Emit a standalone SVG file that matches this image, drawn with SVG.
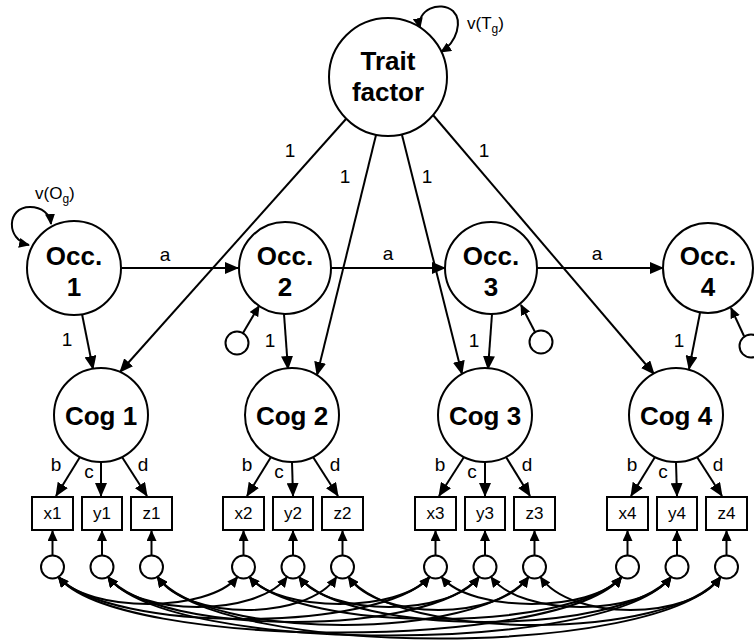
<svg xmlns="http://www.w3.org/2000/svg" width="754" height="643" viewBox="0 0 754 643">
<defs>
<marker id="ah" viewBox="0 0 14 12" markerWidth="14" markerHeight="12" refX="13" refY="6" orient="auto-start-reverse" markerUnits="userSpaceOnUse"><path d="M0,0 L14,6 L0,12 z" fill="#000"/></marker>
<marker id="ahs" viewBox="0 0 11 10" markerWidth="11" markerHeight="10" refX="10" refY="5" orient="auto-start-reverse" markerUnits="userSpaceOnUse"><path d="M0,0 L11,5 L0,10 z" fill="#000"/></marker>
<style>
.n{fill:#fff;stroke:#000;stroke-width:2}
.b{font-family:"Liberation Sans",Arial,sans-serif;font-weight:bold;font-size:26px;text-anchor:middle;fill:#000}
.t{font-family:"Liberation Sans",Arial,sans-serif;font-size:17px;text-anchor:middle;fill:#000}
.v{font-family:"Liberation Sans",Arial,sans-serif;font-size:17px;text-anchor:start;fill:#000}
.l{font-family:"Liberation Sans",Arial,sans-serif;font-size:19px;text-anchor:middle;fill:#000}
.e{fill:none;stroke:#000;stroke-width:2;marker-end:url(#ah)}
.es{fill:none;stroke:#000;stroke-width:2;marker-end:url(#ahs)}
.c{fill:none;stroke:#000;stroke-width:2;marker-start:url(#ahs);marker-end:url(#ahs)}
</style>
</defs>
<rect width="754" height="643" fill="#fff"/>
<g id="connectors">
<path class="c" d="M420,28 C416,10 440,0 453,11 C463,21 457,42 441,52"/>
<path class="c" d="M29,245 C6,240 6,207 30,207 C42,207 50,214 51,224"/>
<path class="e" d="M122,268 L238,268"/>
<path class="e" d="M331,268 L445,268"/>
<path class="e" d="M537,268 L663,268"/>
<path class="e" d="M346,119 L120,372"/>
<path class="e" d="M376,135 L317,375"/>
<path class="e" d="M402,135 L462,374"/>
<path class="e" d="M433,115 L654,374"/>
<path class="e" d="M82,314 L93,369"/>
<path class="e" d="M284,314 L288,369"/>
<path class="e" d="M492,314 L488,369"/>
<path class="e" d="M700,313 L689,369"/>
<path class="es" d="M243,333 L259,306"/>
<path class="es" d="M535,332 L521,305"/>
<path class="es" d="M744,336 L731,308"/>
<path class="e" d="M80,457 L56,496"/><path class="e" d="M101,462 L101,496"/><path class="e" d="M122,457 L147,496"/>
<path class="e" d="M271,457 L247,496"/><path class="e" d="M292,462 L293,496"/><path class="e" d="M313,457 L338,496"/>
<path class="e" d="M464,457 L439,496"/><path class="e" d="M485,462 L485,496"/><path class="e" d="M506,457 L530,496"/>
<path class="e" d="M655,457 L631,496"/><path class="e" d="M676,462 L677,496"/><path class="e" d="M697,457 L722,496"/>
<path class="es" d="M52.5,555 L52.5,531"/><path class="es" d="M102,555 L102,531"/><path class="es" d="M151.5,555 L151.5,531"/>
<path class="es" d="M243.5,555 L243.5,531"/><path class="es" d="M293,555 L293,531"/><path class="es" d="M342.5,555 L342.5,531"/>
<path class="es" d="M435.5,555 L435.5,531"/><path class="es" d="M485,555 L485,531"/><path class="es" d="M534.5,555 L534.5,531"/>
<path class="es" d="M627.5,555 L627.5,531"/><path class="es" d="M677,555 L677,531"/><path class="es" d="M726.5,555 L726.5,531"/>
<path class="c" d="M58.5,577 C88.5,613 207.5,613 237.5,577"/>
<path class="c" d="M58.5,577 C108.5,633 379.5,633 429.5,577"/>
<path class="c" d="M58.5,577 C118.5,651 561.5,651 621.5,577"/>
<path class="c" d="M249.5,577 C279.5,613 399.5,613 429.5,577"/>
<path class="c" d="M249.5,577 C299.5,633 571.5,633 621.5,577"/>
<path class="c" d="M441.5,577 C471.5,613 591.5,613 621.5,577"/>
<path class="c" d="M108,577 C138,617 257,617 287,577"/>
<path class="c" d="M108,577 C158,637 429,637 479,577"/>
<path class="c" d="M108,577 C168,655 611,655 671,577"/>
<path class="c" d="M299,577 C329,617 449,617 479,577"/>
<path class="c" d="M299,577 C349,637 621,637 671,577"/>
<path class="c" d="M491,577 C521,617 641,617 671,577"/>
<path class="c" d="M157.5,577 C187.5,621 306.5,621 336.5,577"/>
<path class="c" d="M157.5,577 C207.5,641 478.5,641 528.5,577"/>
<path class="c" d="M157.5,577 C217.5,659 660.5,659 720.5,577"/>
<path class="c" d="M348.5,577 C378.5,621 498.5,621 528.5,577"/>
<path class="c" d="M348.5,577 C398.5,641 670.5,641 720.5,577"/>
<path class="c" d="M540.5,577 C570.5,621 690.5,621 720.5,577"/>
<text class="v" x="467" y="29">v(T<tspan font-size="12" dy="4">g</tspan><tspan dy="-4">)</tspan></text>
<text class="v" x="35" y="199">v(O<tspan font-size="12" dy="4">g</tspan><tspan dy="-4">)</tspan></text>
<text class="l" x="165" y="261">a</text>
<text class="l" x="388" y="260">a</text>
<text class="l" x="597" y="260">a</text>
<text class="l" x="290" y="157">1</text>
<text class="l" x="345" y="183">1</text>
<text class="l" x="427" y="183">1</text>
<text class="l" x="484" y="157">1</text>
<text class="l" x="67" y="346">1</text>
<text class="l" x="270" y="347">1</text>
<text class="l" x="474" y="347">1</text>
<text class="l" x="679" y="347">1</text>
<g class="l">
<text x="56" y="471">b</text><text x="89" y="478">c</text><text x="143" y="471">d</text>
<text x="247" y="471">b</text><text x="279" y="478">c</text><text x="335" y="471">d</text>
<text x="440" y="471">b</text><text x="472" y="478">c</text><text x="527" y="471">d</text>
<text x="632" y="471">b</text><text x="663" y="478">c</text><text x="718" y="471">d</text>
</g>
</g>
<g id="trait"><circle class="n" cx="388" cy="77" r="59"/><text class="b" x="388" y="70">Trait</text><text class="b" x="388" y="101">factor</text></g>
<g id="occ1"><circle class="n" cx="74" cy="268" r="47"/><text class="b" x="74" y="265">Occ.</text><text class="b" x="74" y="296">1</text></g>
<g id="occ2"><circle class="n" cx="285" cy="268" r="46"/><text class="b" x="285" y="265">Occ.</text><text class="b" x="285" y="296">2</text></g>
<g id="occ3"><circle class="n" cx="491" cy="268" r="46"/><text class="b" x="491" y="265">Occ.</text><text class="b" x="491" y="296">3</text></g>
<g id="occ4"><circle class="n" cx="708" cy="268" r="45"/><text class="b" x="708" y="265">Occ.</text><text class="b" x="708" y="296">4</text></g>
<g id="occres2"><circle class="n" cx="237" cy="343" r="11.5"/></g>
<g id="occres3"><circle class="n" cx="541" cy="342" r="11.5"/></g>
<g id="occres4"><circle class="n" cx="751" cy="346" r="11.5"/></g>
<g id="cog1"><circle class="n" cx="101" cy="415" r="47"/><text class="b" x="101" y="425">Cog 1</text></g>
<g id="cog2"><circle class="n" cx="292" cy="415" r="47"/><text class="b" x="292" y="425">Cog 2</text></g>
<g id="cog3"><circle class="n" cx="485" cy="415" r="47"/><text class="b" x="485" y="425">Cog 3</text></g>
<g id="cog4"><circle class="n" cx="676" cy="415" r="47"/><text class="b" x="676" y="425">Cog 4</text></g>
<g id="x1"><rect class="n" x="32" y="497" width="41" height="33"/><text class="t" x="52.5" y="519">x1</text></g>
<g id="y1"><rect class="n" x="82" y="497" width="40" height="33"/><text class="t" x="102" y="519">y1</text></g>
<g id="z1"><rect class="n" x="131" y="497" width="41" height="33"/><text class="t" x="151.5" y="519">z1</text></g>
<g id="x2"><rect class="n" x="223" y="497" width="41" height="33"/><text class="t" x="243.5" y="519">x2</text></g>
<g id="y2"><rect class="n" x="273" y="497" width="40" height="33"/><text class="t" x="293" y="519">y2</text></g>
<g id="z2"><rect class="n" x="322" y="497" width="41" height="33"/><text class="t" x="342.5" y="519">z2</text></g>
<g id="x3"><rect class="n" x="415" y="497" width="41" height="33"/><text class="t" x="435.5" y="519">x3</text></g>
<g id="y3"><rect class="n" x="465" y="497" width="40" height="33"/><text class="t" x="485" y="519">y3</text></g>
<g id="z3"><rect class="n" x="514" y="497" width="41" height="33"/><text class="t" x="534.5" y="519">z3</text></g>
<g id="x4"><rect class="n" x="607" y="497" width="41" height="33"/><text class="t" x="627.5" y="519">x4</text></g>
<g id="y4"><rect class="n" x="657" y="497" width="40" height="33"/><text class="t" x="677" y="519">y4</text></g>
<g id="z4"><rect class="n" x="706" y="497" width="41" height="33"/><text class="t" x="726.5" y="519">z4</text></g>
<g id="ex1"><circle class="n" cx="52.5" cy="567" r="11.5"/></g>
<g id="ey1"><circle class="n" cx="102" cy="567" r="11.5"/></g>
<g id="ez1"><circle class="n" cx="151.5" cy="567" r="11.5"/></g>
<g id="ex2"><circle class="n" cx="243.5" cy="567" r="11.5"/></g>
<g id="ey2"><circle class="n" cx="293" cy="567" r="11.5"/></g>
<g id="ez2"><circle class="n" cx="342.5" cy="567" r="11.5"/></g>
<g id="ex3"><circle class="n" cx="435.5" cy="567" r="11.5"/></g>
<g id="ey3"><circle class="n" cx="485" cy="567" r="11.5"/></g>
<g id="ez3"><circle class="n" cx="534.5" cy="567" r="11.5"/></g>
<g id="ex4"><circle class="n" cx="627.5" cy="567" r="11.5"/></g>
<g id="ey4"><circle class="n" cx="677" cy="567" r="11.5"/></g>
<g id="ez4"><circle class="n" cx="726.5" cy="567" r="11.5"/></g>
</svg>
